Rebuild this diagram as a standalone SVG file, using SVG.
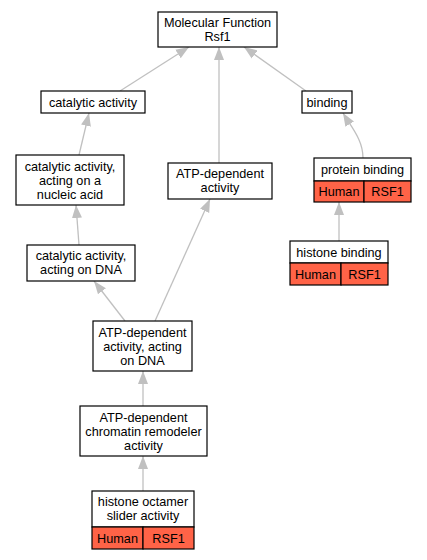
<svg xmlns="http://www.w3.org/2000/svg" width="427" height="560" viewBox="0 0 427 560">
<style>
.box{fill:#fff;stroke:#000;stroke-width:1.2}
.red{fill:#ff6347;stroke:#000;stroke-width:1.2}
text{font-family:"Liberation Sans",Arial,sans-serif;font-size:12.7px;fill:#000;text-anchor:middle}
.edge{fill:none;stroke:#c0c0c0;stroke-width:1.3}
</style>
<defs>
<marker id="ah" markerUnits="userSpaceOnUse" markerWidth="14" markerHeight="11" refX="13" refY="5" orient="auto" viewBox="0 0 14 10">
<path d="M0,0 L13,5 L0,10 z" fill="#c0c0c0"/>
</marker>
</defs>
<rect width="427" height="560" fill="#fff"/>
<g id="edges">
<path class="edge" marker-end="url(#ah)" d="M120,91 L189,47"/>
<path class="edge" marker-end="url(#ah)" d="M219,163 L219,47"/>
<path class="edge" marker-end="url(#ah)" d="M306,91 L244,47"/>
<path class="edge" marker-end="url(#ah)" d="M79,155 L89,113"/>
<path class="edge" marker-end="url(#ah)" d="M363,158 C363,140 352,128 343,113"/>
<path class="edge" marker-end="url(#ah)" d="M79,245 L76,205"/>
<path class="edge" marker-end="url(#ah)" d="M339,241 L339,202"/>
<path class="edge" marker-end="url(#ah)" d="M125,321 L94,281"/>
<path class="edge" marker-end="url(#ah)" d="M155,321 L210,199"/>
<path class="edge" marker-end="url(#ah)" d="M143,406 L143,371"/>
<path class="edge" marker-end="url(#ah)" d="M143,491 L143,456"/>
</g>
<g id="mf">
<rect class="box" x="158" y="12" width="119" height="35"/>
<text x="217.5" y="27">Molecular Function</text>
<text x="217.5" y="41">Rsf1</text>
</g>
<g id="catalytic">
<rect class="box" x="41" y="91" width="104" height="22"/>
<text x="93" y="106.5">catalytic activity</text>
</g>
<g id="binding">
<rect class="box" x="302" y="91" width="50" height="22"/>
<text x="327" y="106.5">binding</text>
</g>
<g id="nucleic">
<rect class="box" x="16" y="155" width="108" height="50"/>
<text x="70" y="170.5">catalytic activity,</text>
<text x="70" y="184.5">acting on a</text>
<text x="70" y="198.5">nucleic acid</text>
</g>
<g id="atpdep">
<rect class="box" x="168" y="163" width="104" height="36"/>
<text x="220" y="178">ATP-dependent</text>
<text x="220" y="192">activity</text>
</g>
<g id="protein">
<rect class="box" x="314" y="158" width="97" height="23"/>
<rect class="red" x="314" y="181" width="50" height="21"/>
<rect class="red" x="364" y="181" width="47" height="21"/>
<text x="362.5" y="174">protein binding</text>
<text x="339" y="195.5">Human</text>
<text x="387.5" y="195.5">RSF1</text>
</g>
<g id="catdna">
<rect class="box" x="27" y="245" width="108" height="36"/>
<text x="81" y="260">catalytic activity,</text>
<text x="81" y="274">acting on DNA</text>
</g>
<g id="histone">
<rect class="box" x="290" y="241" width="98" height="22"/>
<rect class="red" x="290" y="263" width="51" height="22"/>
<rect class="red" x="341" y="263" width="47" height="22"/>
<text x="339" y="256.5">histone binding</text>
<text x="315.5" y="278.5">Human</text>
<text x="364.5" y="278.5">RSF1</text>
</g>
<g id="atpdna">
<rect class="box" x="93" y="321" width="99" height="50"/>
<text x="142.5" y="336.5">ATP-dependent</text>
<text x="142.5" y="350.5">activity, acting</text>
<text x="142.5" y="364.5">on DNA</text>
</g>
<g id="remodeler">
<rect class="box" x="80" y="406" width="127" height="50"/>
<text x="143.5" y="421.5">ATP-dependent</text>
<text x="143.5" y="435.5">chromatin remodeler</text>
<text x="143.5" y="449.5">activity</text>
</g>
<g id="octamer">
<rect class="box" x="92" y="491" width="102" height="36"/>
<rect class="red" x="92" y="527" width="51" height="22"/>
<rect class="red" x="143" y="527" width="51" height="22"/>
<text x="143" y="506">histone octamer</text>
<text x="143" y="520">slider activity</text>
<text x="117.5" y="542.5">Human</text>
<text x="168.5" y="542.5">RSF1</text>
</g>
</svg>
